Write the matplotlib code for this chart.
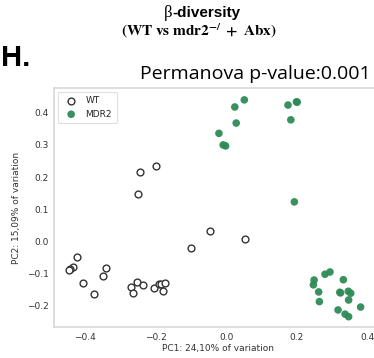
import matplotlib
matplotlib.use("Agg")
import matplotlib.pyplot as plt
import seaborn as sns

# PCoA coordinates
wt_pc1 = [-0.423, -0.436, -0.444, -0.446, -0.406, -0.375, -0.341, -0.350,
          -0.270, -0.265, -0.253, -0.236, -0.205, -0.192, -0.185, -0.173, -0.180,
          -0.199, -0.245, -0.250, -0.046, 0.054, -0.099]
wt_pc2 = [-0.047, -0.078, -0.086, -0.089, -0.130, -0.164, -0.084, -0.107,
          -0.143, -0.159, -0.126, -0.134, -0.145, -0.133, -0.131, -0.128, -0.153,
          0.234, 0.216, 0.147, 0.032, 0.008, -0.021]

mdr2_pc1 = [0.051, 0.024, 0.028, -0.021, -0.009, -0.002, 0.175, 0.199, 0.201, 0.183, 0.193,
            0.249, 0.247, 0.280, 0.294, 0.262, 0.264, 0.332, 0.322, 0.324, 0.346, 0.353,
            0.347, 0.381, 0.317, 0.337, 0.347]
mdr2_pc2 = [0.440, 0.418, 0.368, 0.336, 0.300, 0.297, 0.424, 0.434, 0.433, 0.378, 0.123,
            -0.120, -0.135, -0.102, -0.095, -0.157, -0.187, -0.119, -0.158, -0.160, -0.155, -0.161,
            -0.182, -0.204, -0.213, -0.226, -0.234]

x_ticks = [-0.4, -0.2, 0.0, 0.2, 0.4]
y_ticks = [-0.2, -0.1, 0.0, 0.1, 0.2, 0.3, 0.4]

sns.set_style("white")
plt.rcParams['font.family'] = ['DejaVu Sans']
plt.rcParams['mathtext.fontset'] = 'stix'

fig = plt.figure(figsize=(3.74, 3.58), dpi=100)
ax = fig.add_axes([0.1444, 0.0866, 0.8754, 0.6676])

ax.scatter(wt_pc1, wt_pc2, s=24, facecolors='white', edgecolors='#333333',
           linewidths=1.0, label='WT', zorder=3)
ax.scatter(mdr2_pc1, mdr2_pc2, s=30, color='#2e8b57', alpha=0.95,
           edgecolors='none', label='MDR2', zorder=3)

ax.set_xlim(-0.489, 0.44)
ax.set_ylim(-0.266, 0.477)
ax.set_xticks(x_ticks)
ax.set_yticks(y_ticks)
ax.tick_params(labelsize=6.5, colors='#333333', length=0, pad=4)
for sp in ax.spines.values():
    sp.set_color('#d8d8d8')
    sp.set_linewidth(1.2)

ax.set_xlabel("PC1: 24,10% of variation", fontsize=6.5, color='#333333', labelpad=2)
ax.set_ylabel("PC2: 15,09% of variation", fontsize=6.5, color='#333333', labelpad=4)

leg = ax.legend(loc='upper left', fontsize=6.5, frameon=True, borderpad=0.5,
                handletextpad=0.6, labelspacing=0.5, borderaxespad=0.4)
leg.get_frame().set_edgecolor('#d8d8d8')
leg.get_frame().set_linewidth(0.8)

# header texts
fig.text(0.002, 0.838, "H.", fontsize=21, fontweight='bold', color='black',
         family='Liberation Sans', ha='left', va='center')
fig.text(0.461, 0.965, "β", fontsize=12, family='Liberation Serif', color='black',
         ha='right', va='center')
fig.text(0.461, 0.965, "-diversity", fontsize=11, fontweight='bold', color='black',
         family='Liberation Sans', ha='left', va='center')
fig.text(0.532, 0.913, r"$\mathbf{(WT\ vs\ mdr2^{-/}\ +\ Abx)}$", fontsize=11,
         color='black', ha='center', va='center')
fig.text(0.992, 0.793, "Permanova p-value:0.001", fontsize=14, color='black',
         family='Open Sans', ha='right', va='center')

fig.savefig("out.png", dpi=100)
